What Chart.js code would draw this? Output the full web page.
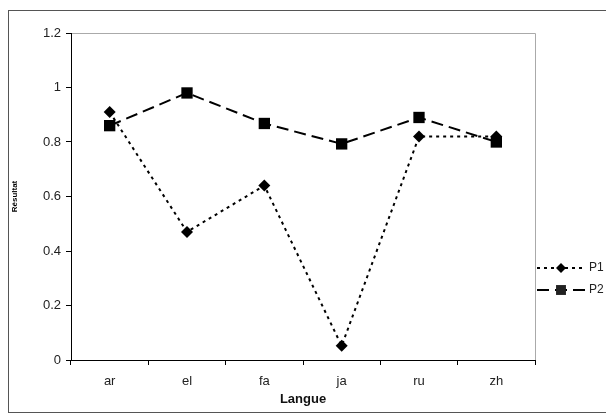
<!DOCTYPE html>
<html>
<head>
<meta charset="utf-8">
<script src="https://cdn.jsdelivr.net/npm/chart.js@4/dist/chart.umd.min.js"></script>
<style>
html,body{margin:0;padding:0;background:#fff;}
#wrap{width:606px;height:418px;position:relative;}
</style>
</head>
<body>
<div id="wrap"><canvas id="c" width="606" height="418"></canvas></div>
<script>
const categories = ['ar', 'el', 'fa', 'ja', 'ru', 'zh'];
const p1Values = [0.91, 0.47, 0.64, 0.052, 0.82, 0.82];
const p2Values = [0.86, 0.98, 0.868, 0.793, 0.89, 0.80];
const seriesNames = ['P1', 'P2'];
const yTickValues = [0, 0.2, 0.4, 0.6, 0.8, 1, 1.2];
const xTitle = 'Langue';
const yTitle = 'Résultat';

const FONT = '"Liberation Sans", Arial, sans-serif';

const frame = {
  id: 'frame',
  beforeDraw(chart) {
    const ctx = chart.ctx;
    ctx.save();
    ctx.fillStyle = '#fff';
    ctx.fillRect(0, 0, chart.width, chart.height);
    ctx.strokeStyle = '#555';
    ctx.lineWidth = 1;
    ctx.strokeRect(8.5, 10.5, 620, 402);
    const a = chart.chartArea;
    ctx.strokeStyle = '#aaa';
    ctx.beginPath();
    ctx.moveTo(a.left, a.top + 0.5);
    ctx.lineTo(a.right + 0.5, a.top + 0.5);
    ctx.lineTo(a.right + 0.5, a.bottom);
    ctx.stroke();
    ctx.restore();
  },
  afterDraw(chart) {
    const ctx = chart.ctx;
    ctx.save();
    chart.data.datasets.forEach((ds, i) => {
      const y = 268 + i * 22;
      const x0 = 537, x1 = 585;
      ctx.strokeStyle = '#000';
      ctx.lineWidth = 2;
      ctx.setLineDash(ds.borderDash);
      ctx.beginPath();
      ctx.moveTo(x0, y);
      ctx.lineTo(x1, y);
      ctx.stroke();
      ctx.setLineDash([]);
      Chart.helpers.drawPoint(ctx, {pointStyle: ds.pointStyle, radius: ds.pointRadius - 1, borderWidth: 0}, (x0 + x1) / 2, y);
      ctx.fillStyle = '#222';
      ctx.font = '12px ' + FONT;
      ctx.textBaseline = 'middle';
      ctx.fillText(ds.label, x1 + 4, y);
    });
    ctx.restore();
  }
};

new Chart(document.getElementById('c'), {
  type: 'line',
  data: {
    labels: categories,
    datasets: [
      {
        label: seriesNames[0],
        data: p1Values,
        borderColor: '#000',
        backgroundColor: '#000',
        borderWidth: 2,
        borderDash: [3, 4],
        pointStyle: 'rectRot',
        pointRadius: 6,
        pointBorderWidth: 0,
        pointBackgroundColor: '#000',
        tension: 0
      },
      {
        label: seriesNames[1],
        data: p2Values,
        borderColor: '#000',
        backgroundColor: '#000',
        borderWidth: 2,
        borderDash: [12, 6],
        pointStyle: 'rect',
        pointRadius: 8,
        pointBorderWidth: 0,
        pointBackgroundColor: '#000',
        tension: 0
      }
    ]
  },
  options: {
    responsive: false,
    animation: false,
    devicePixelRatio: 1,
    layout: { padding: { left: 10, top: 33, right: 71, bottom: 8 } },
    plugins: { legend: { display: false }, tooltip: { enabled: false } },
    scales: {
      x: {
        offset: true,
        grid: { display: true, drawOnChartArea: false, drawTicks: true, tickLength: 5, color: '#000', offset: true },
        border: { display: true, color: '#000', width: 1 },
        ticks: { color: '#222', padding: 9, font: { family: FONT, size: 13 } },
        title: { display: true, text: xTitle, color: '#111', padding: { top: 4, bottom: 3 }, font: { family: FONT, size: 13, weight: 'bold' } },
        afterFit(s) { s.height = 418 - 360 - 8; }
      },
      y: {
        min: 0,
        max: 1.2,
        afterBuildTicks(s) { s.ticks = yTickValues.map(v => ({ value: v })); },
        grid: { display: true, drawOnChartArea: false, drawTicks: true, tickLength: 5, color: '#000' },
        border: { display: true, color: '#000', width: 1 },
        ticks: { color: '#222', padding: 5, font: { family: FONT, size: 13 }, callback: v => String(Math.round(v * 10) / 10) },
        title: { display: true, text: yTitle, color: '#000', padding: 0, font: { family: FONT, size: 8, weight: 'bold' } },
        afterFit(s) { s.width = 71 - 10; }
      }
    }
  },
  plugins: [frame]
});
</script>
</body>
</html>
